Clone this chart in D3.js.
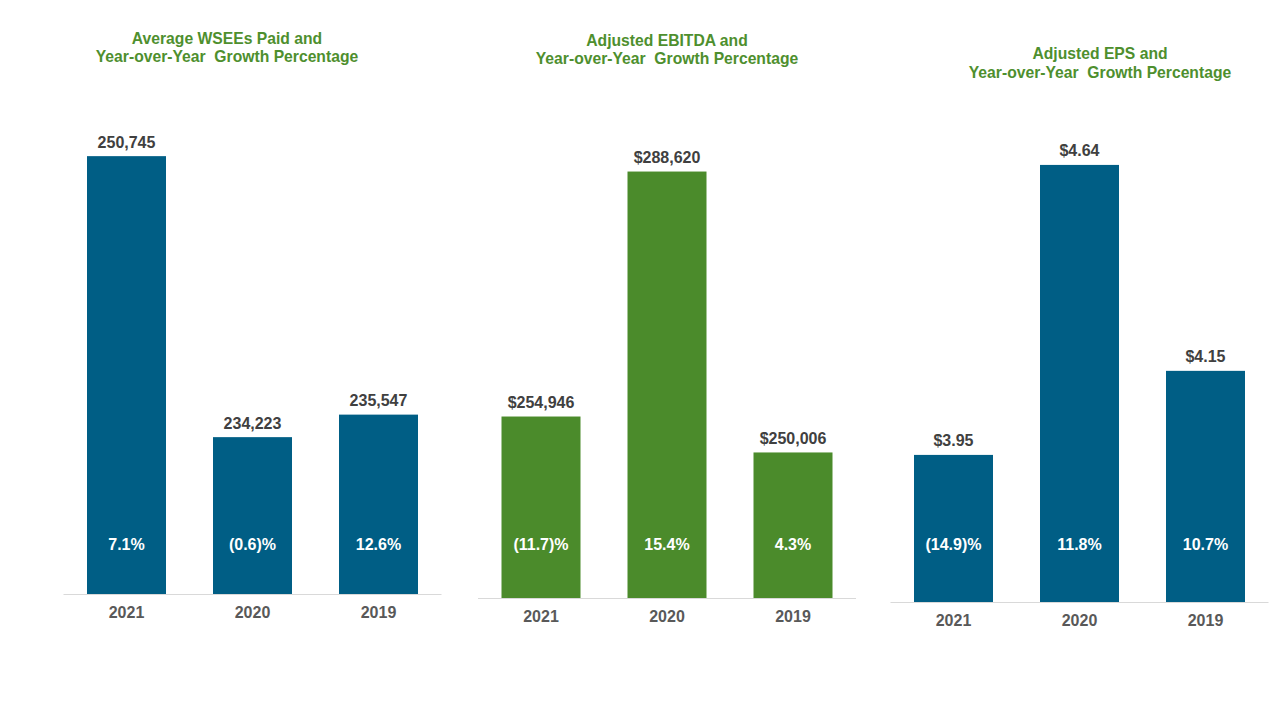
<!DOCTYPE html>
<html>
<head>
<meta charset="utf-8">
<script src="https://cdn.jsdelivr.net/npm/d3@7"></script>
<style>
  html, body { margin: 0; padding: 0; background: #fff; }
  svg { display: block; font-family: "Liberation Sans", Arial, sans-serif; }
</style>
</head>
<body>
<svg id="chart" width="1280" height="720"></svg>
<script>
// ---- Data ----
const years = ["2021", "2020", "2019"];

const wseeValues = [250745, 234223, 235547];
const wseeLabels = ["250,745", "234,223", "235,547"];
const wseeGrowth = ["7.1%", "(0.6)%", "12.6%"];

const ebitdaValues = [254946, 288620, 250006];
const ebitdaLabels = ["$254,946", "$288,620", "$250,006"];
const ebitdaGrowth = ["(11.7)%", "15.4%", "4.3%"];

const epsValues = [3.95, 4.64, 4.15];
const epsLabels = ["$3.95", "$4.64", "$4.15"];
const epsGrowth = ["(14.9)%", "11.8%", "10.7%"];

const titles = [
  ["Average WSEEs Paid and", "Year-over-Year  Growth Percentage"],
  ["Adjusted EBITDA and", "Year-over-Year  Growth Percentage"],
  ["Adjusted EPS and", "Year-over-Year  Growth Percentage"]
];

// ---- Layout ----
const BLUE = "#005E85", GREEN = "#4B8B2B", TITLE_GREEN = "#4E8F2E";
const panels = [
  { values: wseeValues, labels: wseeLabels, growth: wseeGrowth, title: titles[0],
    color: BLUE, x0: 63.5, x1: 441.5, base: 594, domain: [225000, 252000], top: 134.8,
    titleX: 227, titleY: [44, 62] },
  { values: ebitdaValues, labels: ebitdaLabels, growth: ebitdaGrowth, title: titles[1],
    color: GREEN, x0: 478, x1: 856, base: 598, domain: [230000, 290000], top: 161.5,
    titleX: 667, titleY: [46, 64] },
  { values: epsValues, labels: epsLabels, growth: epsGrowth, title: titles[2],
    color: BLUE, x0: 890.5, x1: 1268.5, base: 602, domain: [3.6, 4.7], top: 139.7,
    titleX: 1100, titleY: [59, 77.5] }
];

const svg = d3.select("#chart");

panels.forEach(p => {
  const g = svg.append("g");
  const x = d3.scaleBand().domain(years).range([p.x0, p.x1])
    .paddingInner(0.373).paddingOuter(0.1865);
  const y = d3.scaleLinear().domain(p.domain).range([p.base, p.top]);

  // title
  const t = g.append("text")
    .attr("text-anchor", "middle")
    .attr("fill", TITLE_GREEN)
    .attr("font-weight", "bold")
    .attr("font-size", 15.7)
    .style("white-space", "pre");
  p.title.forEach((line, i) => {
    t.append("tspan").attr("x", p.titleX).attr("y", p.titleY[i]).text(line);
  });

  const data = years.map((yr, i) => ({ yr, v: p.values[i], lab: p.labels[i], gr: p.growth[i] }));

  // bars
  g.selectAll("rect").data(data).join("rect")
    .attr("x", d => x(d.yr))
    .attr("width", x.bandwidth())
    .attr("y", d => y(d.v))
    .attr("height", d => p.base - y(d.v))
    .attr("fill", p.color);

  // axis line
  const axis = d3.axisBottom(x).tickSize(0).tickPadding(12);
  const ag = g.append("g").attr("transform", `translate(0,${p.base})`).call(axis);
  ag.select(".domain").attr("stroke", "#D9D9D9").attr("stroke-width", 1)
    .attr("d", `M${p.x0},0.5H${p.x1}`);
  ag.selectAll(".tick text")
    .attr("font-family", "Liberation Sans, Arial, sans-serif")
    .attr("font-size", 16).attr("font-weight", "bold").attr("fill", "#595959")
    .attr("dy", "0.78em");

  // value labels
  g.selectAll("text.val").data(data).join("text").attr("class", "val")
    .attr("x", d => x(d.yr) + x.bandwidth() / 2)
    .attr("y", d => y(d.v) - 8.5)
    .attr("text-anchor", "middle")
    .attr("font-size", 16).attr("font-weight", "bold").attr("fill", "#404040")
    .text(d => d.lab);

  // growth labels
  g.selectAll("text.gr").data(data).join("text").attr("class", "gr")
    .attr("x", d => x(d.yr) + x.bandwidth() / 2)
    .attr("y", 550)
    .attr("text-anchor", "middle")
    .attr("font-size", 16).attr("font-weight", "bold").attr("fill", "#FFFFFF")
    .text(d => d.gr);
});
</script>
</body>
</html>
